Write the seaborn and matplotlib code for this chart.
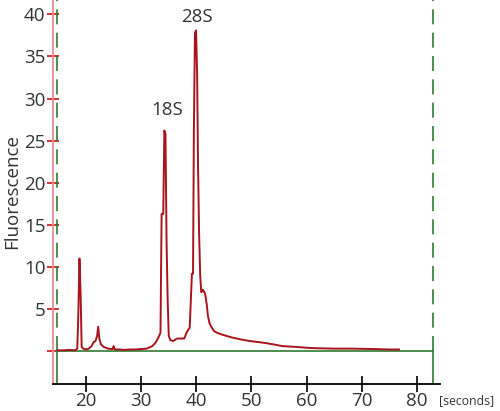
import numpy as np
import pandas as pd
import matplotlib
matplotlib.use('Agg')
import matplotlib.pyplot as plt
import seaborn as sns

# electropherogram trace
time_s = [14.8, 16.0, 17.0, 18.0, 18.4, 18.6, 18.8, 19.0, 19.2, 19.5, 20.0, 20.5,
          21.0, 21.4, 21.7, 22.0, 22.2, 22.4, 22.7, 23.2, 24.0, 24.8, 25.0, 25.2,
          26.0, 27.0, 28.0, 29.0, 30.0, 31.0, 32.0, 32.6, 33.1, 33.5, 33.7, 34.0,
          34.2, 34.4, 34.6, 34.8, 35.0, 35.3, 35.8, 36.5, 37.2, 37.8, 38.3, 38.8,
          39.2, 39.4, 39.55, 39.75, 39.95, 40.15, 40.3, 40.5, 40.7, 40.9, 41.2, 41.6,
          41.9, 42.1, 42.4, 42.8, 43.2, 43.7, 44.5, 45.5, 46.6, 48.0, 49.7, 51.0,
          52.7, 54.0, 55.6, 58.2, 60.0, 61.8, 65.0, 68.0, 72.6, 75.0, 76.8]
fluor = [0.1, 0.1, 0.15, 0.1, 0.3, 4.5, 11.0, 7.0, 0.5, 0.3, 0.2, 0.3,
         0.6, 1.1, 1.2, 1.8, 2.9, 1.5, 0.8, 0.5, 0.3, 0.25, 0.6, 0.2,
         0.2, 0.15, 0.2, 0.2, 0.25, 0.3, 0.6, 1.0, 1.6, 2.2, 16.3, 16.3,
         26.2, 25.8, 13.0, 6.0, 1.8, 1.3, 1.2, 1.5, 1.5, 1.5, 2.3, 2.8,
         9.2, 9.2, 25.8, 37.8, 38.1, 32.7, 22.5, 14.0, 9.0, 7.0, 7.3, 6.8,
         5.5, 4.2, 3.3, 2.8, 2.4, 2.2, 2.0, 1.8, 1.6, 1.4, 1.2, 1.1,
         0.95, 0.8, 0.6, 0.5, 0.4, 0.35, 0.3, 0.3, 0.25, 0.2, 0.2]

y_ticks = [0, 5, 10, 15, 20, 25, 30, 35, 40]
y_labels = ['', '5', '10', '15', '20', '25', '30', '35', '40']
x_ticks = [20, 30, 40, 50, 60, 70, 80]
peaks = ['18S', '28S']
peak_pos = [(34.7, 28.6), (40.1, 39.7)]
marker_left, marker_right = 14.8, 82.9

sns.set_style('white')
plt.rcParams['font.family'] = ['Open Sans', 'DejaVu Sans']

df = pd.DataFrame({'time': time_s, 'fluor': fluor})

fig = plt.figure(figsize=(5, 4.11), dpi=100)
ax = fig.add_axes([0.106, 0.0657, 0.774, 0.9343])

# peak-window markers
green = '#2f7a2f'
ax.plot([marker_left, marker_right], [0, 0], color=green, lw=1.2, zorder=2)
for xm in (marker_left, marker_right):
    ax.plot([xm, xm], [-3.9, 0], color=green, lw=1.2, zorder=2)
    ax.plot([xm, xm], [0, 41.7], color=green, lw=1.2, dashes=(9, 5), zorder=2)

sns.lineplot(data=df, x='time', y='fluor', ax=ax, color='#a8141c', lw=1.4,
             sort=False, estimator=None, zorder=3)

for name, (px, py) in zip(peaks, peak_pos):
    ax.text(px, py, name, ha='center', va='center', fontsize=13.5, color='#333333')

ax.set_xlim(14.0, 84.2)
ax.set_ylim(-3.9, 41.7)
ax.set_yticks(y_ticks)
ax.set_yticklabels(y_labels)
ax.set_xticks(x_ticks)
ax.tick_params(axis='y', direction='inout', length=9, width=1.2, color='#cc1010',
               labelsize=13.5, labelcolor='#333333', pad=1, left=True)
ax.tick_params(axis='x', direction='inout', length=11, width=1.2, color='black',
               labelsize=13.5, labelcolor='#333333', pad=0, bottom=True)

for side in ('top', 'right'):
    ax.spines[side].set_visible(False)
ax.spines['left'].set_color('#e59090')
ax.spines['left'].set_linewidth(1.3)
ax.spines['bottom'].set_color('black')
ax.spines['bottom'].set_linewidth(1.3)

ax.set_xlabel('')
ax.set_ylabel('Fluorescence', fontsize=13.5, color='#333333', labelpad=2)
fig.text(0.878, 0.025, '[seconds]', fontsize=8.8, color='#333333', ha='left', va='center')

fig.savefig('out.png', dpi=100)
